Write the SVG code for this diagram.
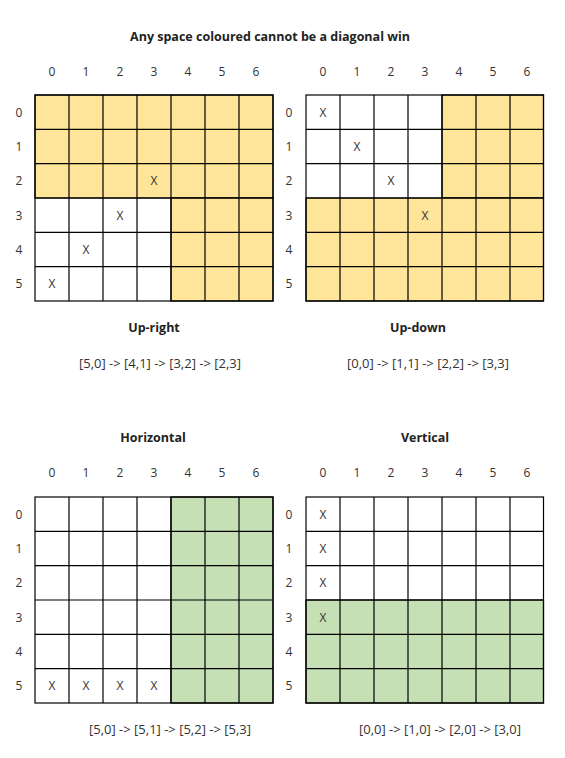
<svg xmlns="http://www.w3.org/2000/svg" width="565" height="758" viewBox="0 0 565 758">
<style>
text{font-family:"Open Sans","DejaVu Sans",sans-serif;font-size:12px;fill:#333;text-anchor:middle;dominant-baseline:central}
.t{font-weight:bold;font-size:12.5px;fill:#222}
.s{font-size:13px}
.y{fill:#ffe599}
.g{fill:#c5e0b4}
</style>
<rect width="565" height="758" fill="#fff"/>
<text class="t" x="270" y="36">Any space coloured cannot be a diagonal win</text>

<g id="grid-upright">
<g stroke="#000" stroke-width="1.2">
<rect x="35" y="95" width="238" height="103" class="y"/>
<rect x="171" y="198" width="102" height="103" class="y"/>
</g>
<g fill="none" stroke="#000" stroke-width="1.2">
<rect x="35" y="95" width="238" height="206"/>
<path d="M69 95V301M103 95V301M137 95V301M171 95V301M205 95V301M239 95V301M35 129.3H273M35 163.7H273M35 198H273M35 232.3H273M35 266.7H273"/>
</g>
<text x="52" y="71">0</text><text x="86" y="71">1</text><text x="120" y="71">2</text><text x="154" y="71">3</text><text x="188" y="71">4</text><text x="222" y="71">5</text><text x="256" y="71">6</text>
<text x="19" y="112.2">0</text><text x="19" y="146.5">1</text><text x="19" y="180.8">2</text><text x="19" y="215.2">3</text><text x="19" y="249.5">4</text><text x="19" y="283.8">5</text>
<text x="52" y="283.8">X</text><text x="86" y="249.5">X</text><text x="120" y="215.2">X</text><text x="154" y="180.8">X</text>
<text class="t" x="154" y="327">Up-right</text>
<text class="s" x="160" y="363">[5,0] -&gt; [4,1] -&gt; [3,2] -&gt; [2,3]</text>
</g>

<g id="grid-updown">
<g stroke="#000" stroke-width="1.2">
<rect x="442" y="95" width="101.5" height="103" class="y"/>
<rect x="306" y="198" width="237.5" height="103" class="y"/>
</g>
<g fill="none" stroke="#000" stroke-width="1.2">
<rect x="306" y="95" width="237.5" height="206"/>
<path d="M340 95V301M374 95V301M408 95V301M442 95V301M476 95V301M510 95V301M306 129.3H543.5M306 163.7H543.5M306 198H543.5M306 232.3H543.5M306 266.7H543.5"/>
</g>
<text x="323" y="71">0</text><text x="357" y="71">1</text><text x="391" y="71">2</text><text x="425" y="71">3</text><text x="459" y="71">4</text><text x="493" y="71">5</text><text x="527" y="71">6</text>
<text x="289" y="112.2">0</text><text x="289" y="146.5">1</text><text x="289" y="180.8">2</text><text x="289" y="215.2">3</text><text x="289" y="249.5">4</text><text x="289" y="283.8">5</text>
<text x="323" y="112.2">X</text><text x="357" y="146.5">X</text><text x="391" y="180.8">X</text><text x="425" y="215.2">X</text>
<text class="t" x="418" y="327">Up-down</text>
<text class="s" x="428" y="363">[0,0] -&gt; [1,1] -&gt; [2,2] -&gt; [3,3]</text>
</g>

<g id="grid-horizontal">
<g stroke="#000" stroke-width="1.2">
<rect x="171" y="497" width="102" height="206" class="g"/>
</g>
<g fill="none" stroke="#000" stroke-width="1.2">
<rect x="35" y="497" width="238" height="206"/>
<path d="M69 497V703M103 497V703M137 497V703M171 497V703M205 497V703M239 497V703M35 531.3H273M35 565.7H273M35 600H273M35 634.3H273M35 668.7H273"/>
</g>
<text x="52" y="472">0</text><text x="86" y="472">1</text><text x="120" y="472">2</text><text x="154" y="472">3</text><text x="188" y="472">4</text><text x="222" y="472">5</text><text x="256" y="472">6</text>
<text x="19" y="514.2">0</text><text x="19" y="548.5">1</text><text x="19" y="582.8">2</text><text x="19" y="617.2">3</text><text x="19" y="651.5">4</text><text x="19" y="685.8">5</text>
<text x="52" y="685.8">X</text><text x="86" y="685.8">X</text><text x="120" y="685.8">X</text><text x="154" y="685.8">X</text>
<text class="t" x="153" y="437">Horizontal</text>
<text class="s" x="170" y="729">[5,0] -&gt; [5,1] -&gt; [5,2] -&gt; [5,3]</text>
</g>

<g id="grid-vertical">
<g stroke="#000" stroke-width="1.2">
<rect x="306" y="600" width="237.5" height="103" class="g"/>
</g>
<g fill="none" stroke="#000" stroke-width="1.2">
<rect x="306" y="497" width="237.5" height="206"/>
<path d="M340 497V703M374 497V703M408 497V703M442 497V703M476 497V703M510 497V703M306 531.3H543.5M306 565.7H543.5M306 600H543.5M306 634.3H543.5M306 668.7H543.5"/>
</g>
<text x="323" y="472">0</text><text x="357" y="472">1</text><text x="391" y="472">2</text><text x="425" y="472">3</text><text x="459" y="472">4</text><text x="493" y="472">5</text><text x="527" y="472">6</text>
<text x="289" y="514.2">0</text><text x="289" y="548.5">1</text><text x="289" y="582.8">2</text><text x="289" y="617.2">3</text><text x="289" y="651.5">4</text><text x="289" y="685.8">5</text>
<text x="323" y="514.2">X</text><text x="323" y="548.5">X</text><text x="323" y="582.8">X</text><text x="323" y="617.2">X</text>
<text class="t" x="425" y="437">Vertical</text>
<text class="s" x="440" y="729">[0,0] -&gt; [1,0] -&gt; [2,0] -&gt; [3,0]</text>
</g>
</svg>
